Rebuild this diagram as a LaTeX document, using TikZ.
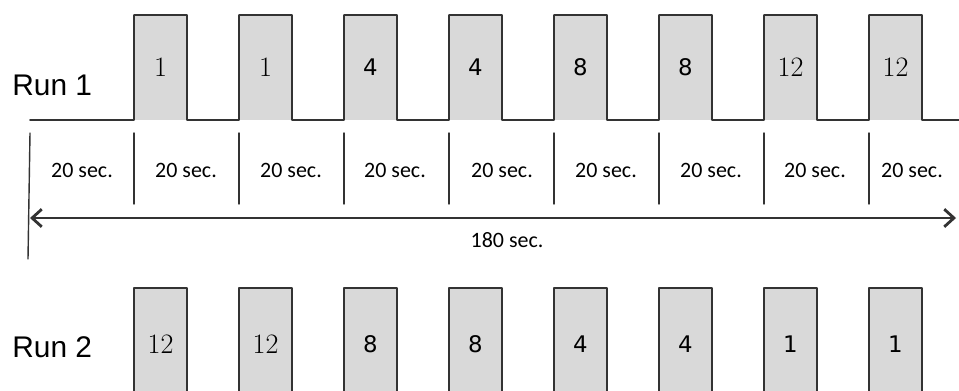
\documentclass[tikz,border=0pt]{standalone}
\usepackage{fontspec}
\newfontfamily\runfont{Liberation Sans}
\newfontfamily\secfont{Carlito}
\newfontfamily\sansnum{DejaVu Sans}
\usetikzlibrary{arrows.meta}
\definecolor{pulsegray}{HTML}{D9D9D9}
\definecolor{linegray}{HTML}{333333}
\newcommand\rmnum{\fontsize{16}{16}\selectfont}
\newcommand\sfnum{\sansnum\fontsize{13}{14}\selectfont}
\begin{document}
\begin{tikzpicture}[x=0.02cm, y=-0.02cm, line cap=round, line join=round,
    pulse/.style={fill=pulsegray, inner sep=0pt, outer sep=0pt,
      minimum width=1.06cm, minimum height=2.1cm},
    block/.style={pulse, draw=linegray, line width=0.9pt, minimum height=2.24cm},
    wave/.style={draw=linegray, line width=0.9pt},
    tick/.style={draw=linegray, line width=0.8pt},
    runlbl/.style={anchor=base west, inner sep=0pt, font=\runfont\fontsize{17}{19}\selectfont},
    seclbl/.style={inner sep=1pt, font=\secfont\fontsize{12.5}{14}\selectfont}]
  \useasboundingbox (0,0) rectangle (959,390);
  \fill[white] (0,0) rectangle (959,390);
  % Run 1
  \node[runlbl] (run1) at (12,95) {Run 1};
  \foreach \n/\f [count=\i] in {1/\rmnum, 1/\rmnum, 4/\sfnum, 4/\sfnum,
      8/\sfnum, 8/\sfnum, 12/\rmnum, 12/\rmnum}
    \node[pulse] (p\i) at ({160.5+105*(\i-1)},67.5) {\f\n};
  \draw[wave] (30,120)
    \foreach \i in {1,...,8}{ -- (p\i.south west) -- (p\i.north west)
      -- (p\i.north east) -- (p\i.south east)} -- (959,120);
  % time slots
  \draw[tick] (30,133) -- (28,259);
  \foreach \i in {1,...,8}
    \draw[tick] ({134+105*(\i-1)},133) -- ({134+105*(\i-1)},204);
  \foreach \x [count=\i] in {82,186,291,395,502,606,711,815,912}
    \node[seclbl] (s\i) at (\x,170) {20 sec.};
  \coordinate (t0) at (30,218);
  \coordinate (t1) at (956,218);
  \draw[wave, {Straight Barb[length=5.5pt,width=10pt,line width=1.6pt]}-{Straight Barb[length=5.5pt,width=10pt,line width=1.6pt]}]
    (t0) -- (t1);
  \node[seclbl] (total) at (507,240) {180 sec.};
  % Run 2
  \node[runlbl] (run2) at (12,357) {Run 2};
  \begin{scope}
    \clip (0,0) rectangle (959,390);
    \foreach \n/\f [count=\i] in {12/\rmnum, 12/\rmnum, 8/\sfnum, 8/\sfnum,
        4/\sfnum, 4/\sfnum, 1/\sfnum, 1/\sfnum}
      \node[block] (q\i) at ({160.5+105*(\i-1)},344) {\f\n};
  \end{scope}
\end{tikzpicture}
\end{document}
